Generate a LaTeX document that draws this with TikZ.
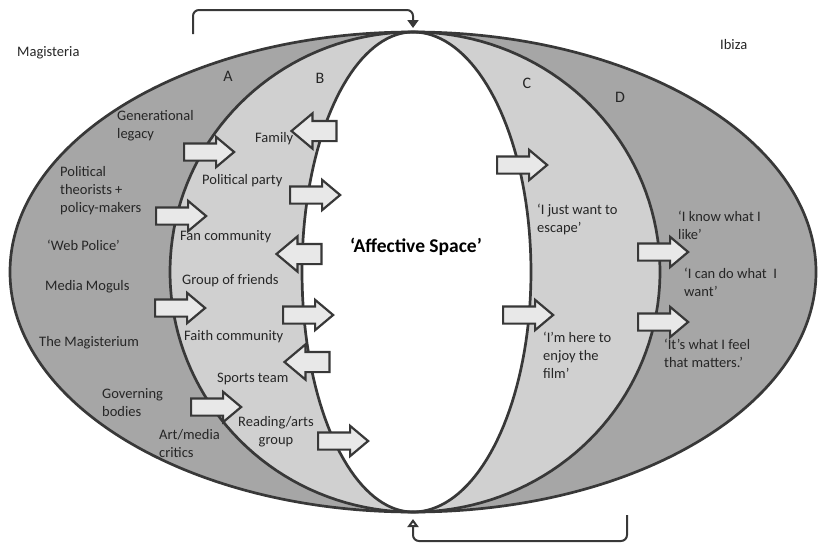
\documentclass[tikz,border=0pt]{standalone}
\usepackage{fontspec}
\setmainfont{Carlito}
\usetikzlibrary{shapes.arrows, arrows.meta, positioning}
\definecolor{rimgray}{RGB}{56,56,56}
\definecolor{outergray}{RGB}{166,166,166}
\definecolor{innergray}{RGB}{208,208,208}
\definecolor{arrowgray}{RGB}{232,232,232}
\definecolor{inkgray}{RGB}{38,38,38}

\begin{document}
\begin{tikzpicture}[x=1pt, y=-1pt,
  lbl/.style={font=\fontsize{14.5}{18}\selectfont, text=inkgray, align=left, inner sep=0pt},
  rblock/.style={single arrow, draw=rimgray, fill=arrowgray, line width=2.2pt, inner xsep=0pt, inner ysep=7.5pt, minimum height=50pt, single arrow head extend=6.5pt, single arrow tip angle=80},
  lblock/.style={rblock, shape border rotate=180, inner ysep=9pt, minimum height=45pt, single arrow head extend=7.5pt},
  rim/.style={draw=rimgray, line width=2.7pt},
  link/.style={draw=rimgray, line width=2pt, rounded corners=6pt}]

  \useasboundingbox[fill=white] (0,0) rectangle (818,546);

  % zones of the globe
  \fill[outergray] (413,272) ellipse [x radius=403, y radius=240];
  \fill[innergray] plot[domain=90:270, samples=80] ({413+243*cos(\x)}, {272-240*sin(\x)})
    -- plot[domain=-90:90, samples=80] ({413+247*cos(\x)}, {272-240*sin(\x)}) -- cycle;
  \fill[white] plot[domain=90:270, samples=80] ({413+111*cos(\x)}, {272-240*sin(\x)})
    -- plot[domain=-90:90, samples=80] ({413+118*cos(\x)}, {272-240*sin(\x)}) -- cycle;

  \draw[rim] (413,272) ellipse [x radius=403, y radius=240];
  \draw[rim] plot[domain=90:270, samples=80] ({413+243*cos(\x)}, {272-240*sin(\x)});
  \draw[rim] plot[domain=90:270, samples=80] ({413+111*cos(\x)}, {272-240*sin(\x)});
  \draw[rim] plot[domain=-90:90, samples=80] ({413+118*cos(\x)}, {272-240*sin(\x)});
  \draw[rim] plot[domain=-90:90, samples=80] ({413+247*cos(\x)}, {272-240*sin(\x)});

  % loop from top to bottom
  \coordinate (top) at (413,32);
  \coordinate (bottom) at (413,512);
  \coordinate (topstart) at (193,34);
  \coordinate (botstart) at (627,515);
  \draw[link, -{Triangle[length=8pt, width=11pt]}] (topstart) |- ([yshift=22pt]top) -- ([yshift=4pt]top);
  \draw[link, -{Triangle[open, length=8pt, width=11pt, fill=white]}] (botstart) |- ([yshift=-29pt]bottom) -- ([yshift=-7pt]bottom);

  % block arrows
  \node[rblock] (gen) at (204,152) {};
  \node[rblock] (party) at (310,195) {};
  \node[rblock] (theory) at (176,216) {};
  \node[rblock] (moguls) at (175,308) {};
  \node[rblock] (faith) at (303,315) {};
  \node[rblock] (govern) at (211,407) {};
  \node[rblock] (reading) at (338,441) {};
  \node[rblock] (escape) at (517,165) {};
  \node[rblock] (film) at (523,315) {};
  \node[rblock] (know) at (658,252) {};
  \node[rblock] (feel) at (658,322) {};
  \node[lblock] (family) at (320,131) {};
  \node[lblock] (fan) at (305,254) {};
  \node[lblock] (sports) at (313,362) {};

  % texts
  \node[lbl, anchor=west] (magisteria) at (17,53) {Magisteria};
  \node[lbl, anchor=west] (ibiza) at (720,45) {Ibiza};
  \node[lbl, font=\fontsize{16}{18}\selectfont] (zoneA) at (228,76) {A};
  \node[lbl, font=\fontsize{16}{18}\selectfont] (zoneB) at (320,78) {B};
  \node[lbl, font=\fontsize{16}{18}\selectfont] (zoneC) at (527,83) {C};
  \node[lbl, font=\fontsize{16}{18}\selectfont] (zoneD) at (620,97) {D};
  \node[font=\fontsize{19.5}{22}\selectfont\bfseries, text=black] (affect) at (416,247) {‘Affective Space’};

  \node[lbl, anchor=west] (tgen) at (117,126) {Generational\\legacy};
  \node[lbl, anchor=west] (ttheory) at (60,191) {Political\\theorists +\\policy-makers};
  \node[lbl, anchor=west] (tweb) at (47,245) {‘Web Police’};
  \node[lbl, anchor=west] (tmoguls) at (45,287) {Media Moguls};
  \node[lbl, anchor=west] (tmag) at (39,343) {The Magisterium};
  \node[lbl, anchor=west] (tgovern) at (102,403) {Governing\\bodies};
  \node[lbl, anchor=west] (tcritics) at (159,444) {Art/media\\critics};

  \node[lbl, anchor=west] (tfamily) at (255,139) {Family};
  \node[lbl, anchor=west] (tparty) at (202,181) {Political party};
  \node[lbl, anchor=west] (tfan) at (180,237) {Fan community};
  \node[lbl, anchor=west] (tfriends) at (182,281) {Group of friends};
  \node[lbl, anchor=west] (tfaith) at (184,337) {Faith community};
  \node[lbl, anchor=west] (tsports) at (217,379) {Sports team};
  \node[lbl, align=center] (treading) at (276,432) {Reading/arts\\group};

  \node[lbl, anchor=west] (tescape) at (537,219) {‘I just want to\\escape’};
  \node[lbl, anchor=west] (tfilm) at (543,355) {‘I’m here to\\enjoy the\\film’};
  \node[lbl, anchor=west] (tknow) at (678,225) {‘I know what I\\like’};
  \node[lbl, anchor=west] (tcan) at (684,282) {‘I can do what~ I\\want’};
  \node[lbl, anchor=west] (tfeel) at (664,353) {‘It’s what I feel\\that matters.’};
\end{tikzpicture}
\end{document}
